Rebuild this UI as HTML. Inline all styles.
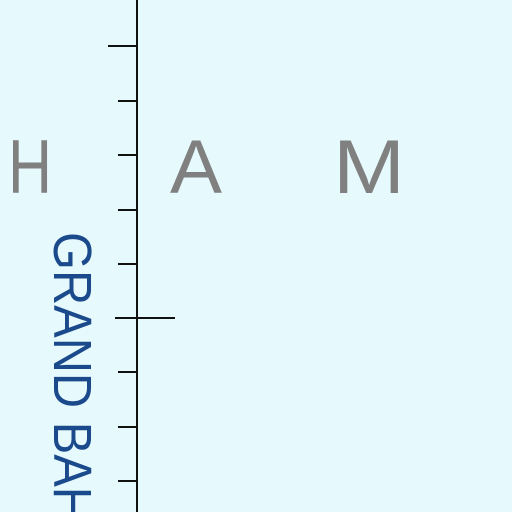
<!DOCTYPE html>
<html><head><meta charset="utf-8"><style>html,body{margin:0;padding:0;background:#e6f9fc}svg{display:block}</style></head>
<body>
<svg width="512" height="512" viewBox="0 0 512 512" xmlns="http://www.w3.org/2000/svg">
<rect width="512" height="512" fill="#e6f9fc"/>
<line x1="137" y1="0" x2="137" y2="512" stroke="#111" stroke-width="2"/>
<g stroke="#111" stroke-width="2">
<line x1="108" y1="46" x2="137" y2="46"/>
<line x1="118" y1="101" x2="137" y2="101"/>
<line x1="118" y1="155" x2="137" y2="155"/>
<line x1="118" y1="210" x2="137" y2="210"/>
<line x1="118" y1="264" x2="137" y2="264"/>
<line x1="115" y1="318" x2="175" y2="318"/>
<line x1="118" y1="372" x2="137" y2="372"/>
<line x1="118" y1="427" x2="137" y2="427"/>
<line x1="118" y1="481" x2="137" y2="481"/>
</g>
<g fill="#808080" font-family="Liberation Sans, sans-serif" font-size="76">
<text x="8" y="193" textLength="44" lengthAdjust="spacingAndGlyphs">H</text>
<text x="170" y="193" textLength="52" lengthAdjust="spacingAndGlyphs">A</text>
<text x="333" y="193" textLength="72" lengthAdjust="spacingAndGlyphs">M</text>
</g>
<text transform="translate(54,232) rotate(90)" fill="#1a4a8c" font-family="Liberation Sans, sans-serif" font-size="54" textLength="290" lengthAdjust="spacingAndGlyphs">GRAND BAH</text>
</svg>
</body></html>
